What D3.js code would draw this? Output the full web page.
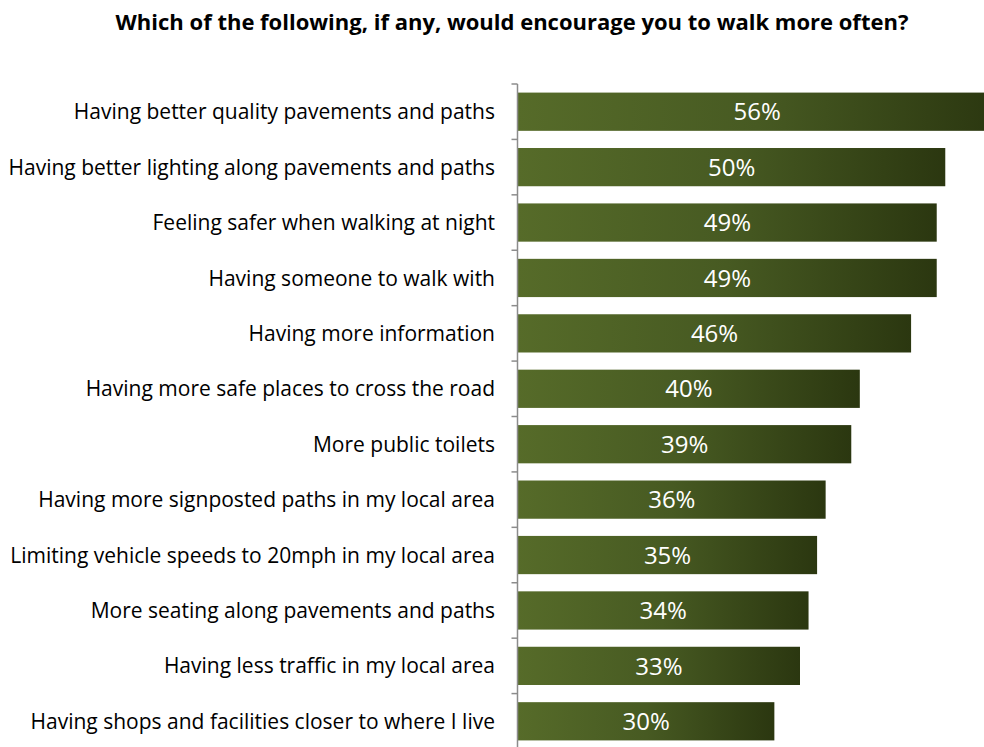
<!DOCTYPE html>
<html>
<head>
<meta charset="utf-8">
<script src="https://cdn.jsdelivr.net/npm/d3@7"></script>
<style>
  body { margin: 0; background: #fff; }
  svg { display: block; }
</style>
</head>
<body>
<svg id="chart" width="984" height="747"></svg>
<script>
// survey answers, top to bottom
const categories = [
  "Having better quality pavements and paths",
  "Having better lighting along pavements and paths",
  "Feeling safer when walking at night",
  "Having someone to walk with",
  "Having more information",
  "Having more safe places to cross the road",
  "More public toilets",
  "Having more signposted paths in my local area",
  "Limiting vehicle speeds to 20mph in my local area",
  "More seating along pavements and paths",
  "Having less traffic in my local area",
  "Having shops and facilities closer to where I live"
]
const values = [56, 50, 49, 49, 46, 40, 39, 36, 35, 34, 33, 30]
const title = "Which of the following, if any, would encourage you to walk more often?"

const W = 984, H = 747
const font = "'Open Sans', sans-serif"
const svg = d3.select("#chart")

const x = d3.scaleLinear().domain([0, 55]).range([518, 988])
const y = d3.scaleBand().domain(categories).range([84, 749]).paddingInner(0.31).paddingOuter(0.155)

// olive gradient like the excel fill
const grad = svg.append("defs").append("linearGradient").attr("id", "olive")
  .attr("x1", "0%").attr("x2", "100%").attr("y1", "0%").attr("y2", "0%")
grad.append("stop").attr("offset", "0%").attr("stop-color", "#566b29")
grad.append("stop").attr("offset", "50%").attr("stop-color", "#475a22")
grad.append("stop").attr("offset", "100%").attr("stop-color", "#2b3710")

svg.append("text")
  .attr("x", 512).attr("y", 30)
  .attr("text-anchor", "middle")
  .style("font-family", font)
  .style("font-weight", "bold").style("font-size", "22px")
  .text(title)

svg.append("g").selectAll("rect").data(values).join("rect")
  .attr("x", x(0))
  .attr("y", (d, i) => y(categories[i]))
  .attr("width", d => x(d) - x(0))
  .attr("height", y.bandwidth())
  .attr("fill", "url(#olive)")

svg.append("g").selectAll("text").data(values).join("text")
  .attr("x", d => (x(0) + x(d)) / 2)
  .attr("y", (d, i) => y(categories[i]) + y.bandwidth() / 2)
  .attr("dy", "0.36em")
  .attr("text-anchor", "middle")
  .attr("fill", "#fff")
  .style("font-family", font)
  .style("font-size", "24px")
  .text(d => d + "%")

// category axis with ticks between bands
const yAxis = svg.append("g").attr("transform", `translate(${x(0) - 0.5},0)`)
yAxis.append("line").attr("y1", 84).attr("y2", H).attr("stroke", "#8c8c8c").attr("stroke-width", 1.5)
const step = y.step()
yAxis.selectAll("line.tk").data(d3.range(categories.length)).join("line").attr("class", "tk")
  .attr("x1", -6).attr("x2", 0)
  .attr("y1", i => 84 + i * step).attr("y2", i => 84 + i * step)
  .attr("stroke", "#8c8c8c").attr("stroke-width", 1.5)

svg.append("g").selectAll("text").data(categories).join("text")
  .attr("x", 495)
  .attr("y", d => y(d) + y.bandwidth() / 2)
  .attr("dy", "0.36em")
  .attr("text-anchor", "end")
  .attr("fill", "#000")
  .style("font-family", font)
  .style("font-size", "21px")
  .text(d => d)
</script>
</body>
</html>
